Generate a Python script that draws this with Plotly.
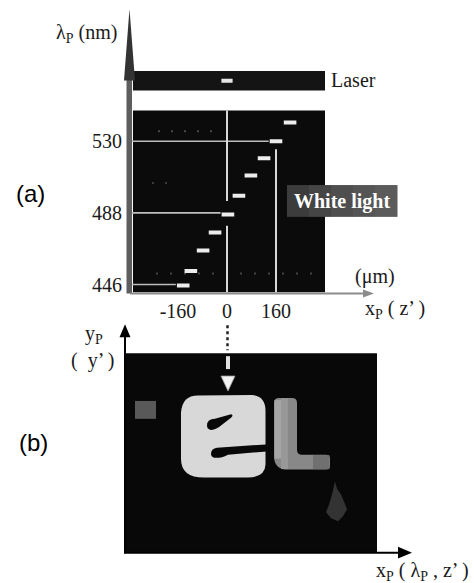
import plotly.graph_objects as go

W, H = 474, 583

# ---------------- data (panel a) ----------------
spot_position_um = [-143, -118, -78, -39, 3, 39, 78, 121, 160, 206]
spot_wavelength_nm = [445.5, 454, 466, 476.5, 487, 498, 510, 520, 530, 541]
laser_position_um = [0]
laser_wavelength_nm = [565.5]
x_tick_um = [-160, 0, 160]
x_tick_text = ["-160", "0", "160"]
y_tick_nm = [446, 488, 530]
y_tick_text = ["446", "488", "530"]
guide_wavelength_nm = [446, 488, 530]
guide_position_um = [0, 160]
window_position_um = [-307, 320]
window_wavelength_nm = [441.3, 548.1]
laser_band_nm = [559.8, 571.2]

# ---------------- pixel calibration of panel (a) ----------------
X0_PX, X_SCALE = 227.0, 0.30625        # px of 0 um, px per um
Y0_PX, Y_SCALE = 214.0, 72.0 / 42.0     # px of 488 nm, px per nm


def um(p):
    return (p - X0_PX) / X_SCALE


def nm(p):
    return 488 + (Y0_PX - p) / Y_SCALE


def fx(x):
    return x / W


def fy(y):
    return 1 - y / H


def path(*segs):
    out = []
    for s in segs:
        cmd = s[0]
        pts = " ".join(f"{fx(p[0]):.5f},{fy(p[1]):.5f}" for p in s[1:])
        out.append(f"{cmd}{pts}" if pts else cmd)
    return " ".join(out)


shapes = []


def pshape(segs, fill, line_color=None, lw=0, layer="above"):
    shapes.append(dict(type="path", xref="paper", yref="paper", path=path(*segs),
                       fillcolor=fill, line=dict(color=line_color or fill, width=lw),
                       layer=layer))


def prect(x0, y0, x1, y1, fill, layer="above"):
    shapes.append(dict(type="rect", xref="paper", yref="paper",
                       x0=fx(x0), x1=fx(x1), y0=fy(y1), y1=fy(y0),
                       fillcolor=fill, line=dict(width=0), layer=layer))


def pline(x0, y0, x1, y1, color, width, dash="solid", layer="above"):
    shapes.append(dict(type="line", xref="paper", yref="paper",
                       x0=fx(x0), x1=fx(x1), y0=fy(y0), y1=fy(y1),
                       line=dict(color=color, width=width, dash=dash), layer=layer))


def dline(x0, y0, x1, y1, color, width, dash="solid"):
    shapes.append(dict(type="line", xref="x", yref="y", x0=x0, x1=x1, y0=y0, y1=y1,
                       line=dict(color=color, width=width, dash=dash), layer="below"))


# ---------------- panel (a) data-space shapes ----------------
shapes.append(dict(type="rect", xref="x", yref="y",
                   x0=window_position_um[0], x1=window_position_um[1],
                   y0=window_wavelength_nm[0], y1=window_wavelength_nm[1],
                   fillcolor="#0b0b0b", line=dict(width=0), layer="below"))
shapes.append(dict(type="rect", xref="x", yref="y",
                   x0=window_position_um[0], x1=window_position_um[1],
                   y0=laser_band_nm[0], y1=laser_band_nm[1],
                   fillcolor="#141414", line=dict(width=0), layer="below"))

# faint speckle rows
dline(um(158), nm(132), um(218), nm(132), "#4a4a4a", 2, "2px,11px")
dline(um(152), nm(184), um(170), nm(184), "#3a3a3a", 2, "2px,11px")
dline(um(156), nm(275), um(322), nm(275), "#454545", 2, "2px,12px")

# guide lines
for wl in guide_wavelength_nm:
    k = min(range(len(spot_wavelength_nm)), key=lambda i: abs(spot_wavelength_nm[i] - wl))
    dline(um(132), wl, spot_position_um[k] - 24, wl, "#bdbdbd", 1.6)

g0, g1 = guide_position_um
k0 = min(range(len(spot_position_um)), key=lambda i: abs(spot_position_um[i] - g0))
dline(g0, window_wavelength_nm[1], g0, spot_wavelength_nm[k0] + 8, "#d8d8d8", 2)
dline(g0, spot_wavelength_nm[k0] - 6.6, g0, window_wavelength_nm[0], "#d8d8d8", 2)
k1 = min(range(len(spot_position_um)), key=lambda i: abs(spot_position_um[i] - g1))
dline(g1, spot_wavelength_nm[k1] - 4.7, g1, window_wavelength_nm[0], "#d8d8d8", 2)

# ---------------- panel (a) axes arrows ----------------
prect(126.5, 78, 132, 295, "#5e5e5e")
pshape([("M", (129.5, 9)), ("L", (135, 81)), ("L", (124, 81)), ("Z",)], "#333333")
pline(130, 295, 366, 295, "#8c8c8c", 2)
pshape([("M", (363, 291)), ("L", (374, 295)), ("L", (363, 299)), ("Z",)], "#8c8c8c")

# White light box (gradient strips)
wl_cols = ["#3c3c3c", "#454545", "#4e4e4e", "#555555", "#5b5b5b"]
bx0, bx1 = 287, 397
step = (bx1 - bx0) / len(wl_cols)
for i, c in enumerate(wl_cols):
    prect(bx0 + i * step, 186, bx0 + (i + 1) * step + 0.5, 218, c)

# ---------------- panel (b) image ----------------
prect(125, 355, 377, 555, "#080808")
prect(135, 403, 156, 421, "#595959")

# reversed S
pshape([("M", (198, 397.5)), ("L", (252, 397)), ("Q", (265.5, 398), (265.5, 413)),
        ("L", (265.5, 467)), ("Q", (265, 480), (248, 480)), ("L", (204, 480)),
        ("Q", (181, 480), (181, 461)), ("L", (181, 415)), ("Q", (182, 397.5), (198, 397.5)),
        ("Z",)], "#d8d8d8")
# upper slit
pshape([("M", (207, 428)), ("Q", (207, 421), (215, 421)), ("L", (231, 416.5)),
        ("Q", (234, 417.5), (231, 420)), ("L", (222, 427)), ("Q", (215, 433), (210, 432)),
        ("Q", (207, 431), (207, 428)), ("Z",)], "#080808")
# lower slit (opens to the right)
pshape([("M", (211, 456)), ("Q", (211, 451), (217, 450)), ("L", (270, 446.5)),
        ("L", (270, 453.5)), ("L", (228, 457)), ("Q", (220, 461), (214, 460)),
        ("Q", (211, 459), (211, 456)), ("Z",)], "#080808")

# L
pshape([("M", (279, 400)), ("L", (292, 400)), ("Q", (297, 400), (297, 405)),
        ("L", (297, 452)), ("Q", (297, 457), (302, 457)), ("L", (326, 457)),
        ("Q", (330, 457), (330, 461)), ("L", (330, 468)), ("Q", (330, 472), (326, 472)),
        ("L", (288, 472)), ("Q", (274, 472), (274, 458)), ("L", (274, 405)),
        ("Q", (274, 400), (279, 400)), ("Z",)], "#888888")
prect(274.5, 402, 281, 461, "#a5a5a5")
prect(281, 400.5, 288, 471.5, "#989898")
prect(313, 457.5, 329.5, 471.5, "#707070")

# faint blob
pshape([("M", (335, 484)), ("L", (337, 491)), ("L", (341, 497)), ("L", (344, 504)),
        ("L", (347, 512)), ("L", (343, 519)), ("L", (338, 524)), ("L", (331, 521)),
        ("L", (326, 515)), ("L", (329, 507)), ("L", (332, 497)), ("Z",)], "#333333")

# dotted / dashed arrow
pline(227.5, 327, 227.5, 352, "#222222", 2.5, "dot")
pline(228, 358, 228, 371, "#e2e2e2", 4)
pshape([("M", (221, 378)), ("L", (235, 378)), ("L", (228, 393)), ("Z",)],
       "#f2f2f2", "#999999", 0.8)

# panel (b) axes arrows
pline(125, 556, 125, 337, "#000000", 2)
pshape([("M", (119.5, 339)), ("L", (130.5, 339)), ("L", (125, 326)), ("Z",)], "#000000")
pline(124, 555.5, 400, 555.5, "#000000", 2)
pshape([("M", (398, 549.5)), ("L", (398, 561.5)), ("L", (412, 555.5)), ("Z",)], "#000000")

# ---------------- annotations ----------------
SERIF = "Liberation Serif, Times New Roman, serif"
SANS = "Liberation Sans, Arial, sans-serif"
ann = []


def text(t, x, y, size=20, family=SERIF, color="#1a1a1a", xanchor="center"):
    ann.append(dict(text=t, x=fx(x), y=fy(y), xref="paper", yref="paper",
                    xanchor=xanchor, yanchor="middle", showarrow=False,
                    font=dict(family=family, size=size, color=color)))


text("λ<sub>P</sub> (nm)", 86, 34)
text("Laser", 329, 80, xanchor="left")
text("<b>White light</b>", 342, 203, color="#ffffff")
text("(μm)", 375, 278)
text("x<sub>P</sub> ( z’ )", 363, 311, xanchor="left")
text("(a)", 30, 195, size=24, family=SANS, color="#000000")
text("(b)", 33, 445, size=24, family=SANS, color="#000000")
text("y<sub>P</sub>", 94, 336)
text("(  y’ )", 93, 362)
text("x<sub>P</sub> ( λ<sub>P</sub> , z’ )", 422, 574)

# ---------------- figure ----------------
fig = go.Figure()
fig.add_trace(go.Scatter(x=spot_position_um, y=spot_wavelength_nm, mode="markers",
                         marker=dict(symbol="line-ew", size=9,
                                     line=dict(width=4, color="#ededed")),
                         hoverinfo="skip"))
fig.add_trace(go.Scatter(x=laser_position_um, y=laser_wavelength_nm, mode="markers",
                         marker=dict(symbol="line-ew", size=8,
                                     line=dict(width=4, color="#e6e6e6")),
                         hoverinfo="skip"))

fig.update_layout(
    width=W, height=H, autosize=False,
    margin=dict(l=0, r=0, t=0, b=0),
    paper_bgcolor="#ffffff", plot_bgcolor="rgba(0,0,0,0)",
    showlegend=False,
    shapes=shapes, annotations=ann,
    xaxis=dict(domain=[fx(129), fx(372)], range=[um(129), um(372)],
               showgrid=False, zeroline=False, showline=False, ticks="",
               ticklabelstandoff=5,
               tickvals=x_tick_um, ticktext=x_tick_text,
               tickfont=dict(family=SERIF, size=20, color="#1a1a1a")),
    yaxis=dict(domain=[fy(294), fy(10)], range=[nm(294), nm(10)],
               showgrid=False, zeroline=False, showline=False, ticks="",
               ticklabelstandoff=6,
               tickvals=y_tick_nm, ticktext=y_tick_text,
               tickfont=dict(family=SERIF, size=20, color="#1a1a1a")),
)

fig.write_html("out.html", config={"displayModeBar": False},
               post_script="document.body.style.margin='0';document.body.style.overflow='hidden';")
